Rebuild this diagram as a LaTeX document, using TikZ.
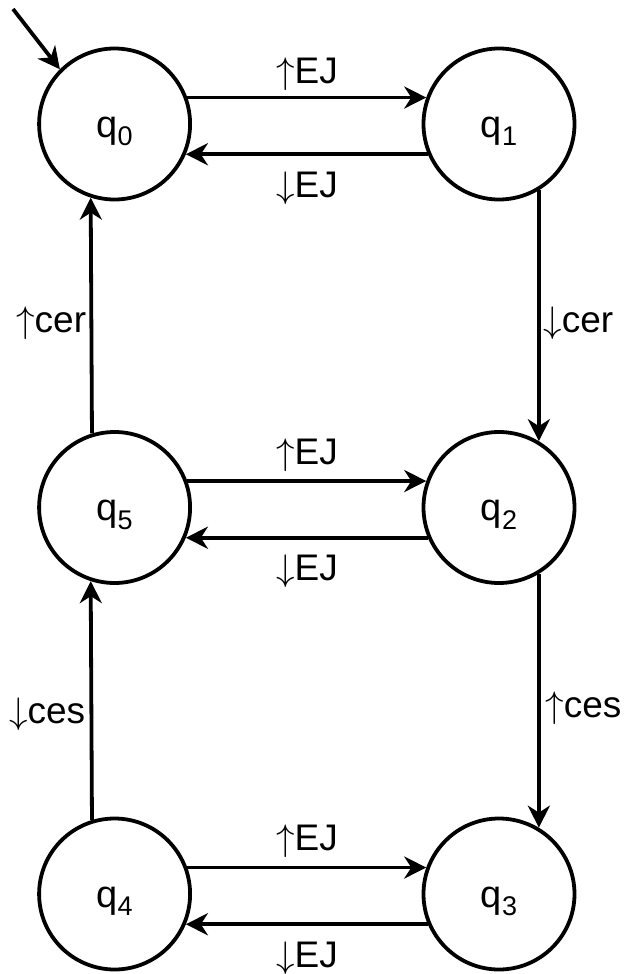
\RequirePackage{fix-cm}
\documentclass[tikz,border=0pt]{standalone}
\usepackage{fontspec}
\setmainfont{Liberation Sans}
\usetikzlibrary{arrows.meta}
\newcommand{\stname}[1]{q\raisebox{-8.5pt}{\fontsize{27}{30}\selectfont #1}}
\newcommand{\up}{\ensuremath{\uparrow}}
\newcommand{\dn}{\ensuremath{\downarrow}}
\begin{document}
\begin{tikzpicture}[x=1pt,y=-1pt,
  line width=3.8pt,
  state/.style={circle,draw,minimum size=151pt,inner sep=0pt,
    text height=26pt,text depth=0pt,font=\fontsize{38}{44}\selectfont},
  lbl/.style={inner sep=0pt,font=\fontsize{37}{44}\selectfont},
  arr/.style={-{Stealth[length=22pt,width=22pt,inset=7pt]}}]
\useasboundingbox (0,0) rectangle (639,974);
\node[state] (q0) at (114.6,124) {\stname{0}};
\node[state] (q1) at (499,124) {\stname{1}};
\node[state] (q5) at (114.6,507.5) {\stname{5}};
\node[state] (q2) at (499,507.5) {\stname{2}};
\node[state] (q4) at (114.6,894) {\stname{4}};
\node[state] (q3) at (499,894) {\stname{3}};
\coordinate (init) at (13,9);
\draw[arr] (init) -- (q0.135);
% horizontal pairs
\draw[arr] (q0.20) -- (q1.160);
\draw[arr] (q1.203.6) -- (q0.-23.6);
\draw[arr] (q5.20) -- (q2.160);
\draw[arr] (q2.203.6) -- (q5.-23.6);
\draw[arr] (q4.20) -- (q3.160);
\draw[arr] (q3.203.6) -- (q4.-23.6);
% verticals
\draw[arr] (q1.-59.5) -- (q2.59.5);
\draw[arr] (q2.-59.5) -- (q3.59.5);
\draw[arr] (q5.107.2) -- (q0.252.8);
\draw[arr] (q4.107.2) -- (q5.252.8);
% labels
\node[lbl,anchor=base] (l01) at (307,83) {\up EJ};
\node[lbl,anchor=base] (l10) at (307,197.5) {\dn EJ};
\node[lbl,anchor=base] (l52) at (307,464) {\up EJ};
\node[lbl,anchor=base] (l25) at (307,580) {\dn EJ};
\node[lbl,anchor=base] (l43) at (307,850) {\up EJ};
\node[lbl,anchor=base] (l34) at (307,967) {\dn EJ};
\node[lbl,anchor=base east] (l50) at (88,332) {\up cer};
\node[lbl,anchor=base west] (l12) at (541.5,332) {\dn cer};
\node[lbl,anchor=base west] (l23) at (543.5,717) {\up ces};
\node[lbl,anchor=base east] (l45) at (87,723) {\dn ces};
\end{tikzpicture}
\end{document}
